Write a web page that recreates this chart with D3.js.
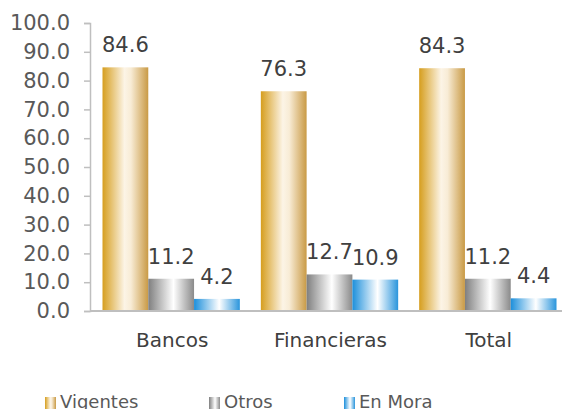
<!DOCTYPE html>
<html>
<head>
<meta charset="UTF-8" />
<script src="https://d3js.org/d3.v7.min.js"></script>
<style>
  body { margin: 0; background: #fff; font-family: "DejaVu Sans", Verdana, sans-serif; }
</style>
</head>
<body>
<svg id="chart" width="562" height="409"></svg>
<script>
// data
const categories = ['Bancos', 'Financieras', 'Total'];
const seriesNames = ['Vigentes', 'Otros', 'En Mora'];
const vigentes = [84.6, 76.3, 84.3];
const otros = [11.2, 12.7, 11.2];
const enMora = [4.2, 10.9, 4.4];
const yTicks = [0, 10, 20, 30, 40, 50, 60, 70, 80, 90, 100];

const seriesValues = [vigentes, otros, enMora];
// gradient stops per series
const gradStops = [
  [['0%', '#d69e1e'], ['48%', '#fcf4e6'], ['62%', '#f8ecd6'], ['100%', '#c99a45']],
  [['0%', '#7f7f7f'], ['55%', '#ffffff'], ['100%', '#8a8a8a']],
  [['0%', '#1c8fdb'], ['55%', '#ffffff'], ['100%', '#2a95dc']]
];

const svg = d3.select('#chart');
const defs = svg.append('defs');
gradStops.forEach((stops, i) => {
  const g = defs.append('linearGradient').attr('id', 'grad' + i)
    .attr('x1', '0%').attr('x2', '100%').attr('y1', '0%').attr('y2', '0%');
  stops.forEach(s => g.append('stop').attr('offset', s[0]).attr('stop-color', s[1]));
});

const plotLeft = 90, plotRight = 567, plotTop = 23, plotBottom = 311;

const y = d3.scaleLinear().domain([0, 100]).range([plotBottom, plotTop]);
const x0 = d3.scaleBand().domain(categories).range([92, plotRight]).padding(0);
const x1 = d3.scaleBand().domain(seriesNames).range([10.5, x0.bandwidth() - 10.5]).padding(0);

// y axis
const yAxis = d3.axisLeft(y).tickValues(yTicks).tickFormat(d3.format('.1f')).tickSize(6).tickPadding(14);
const ya = svg.append('g').attr('transform', `translate(${plotLeft},0)`).call(yAxis);
ya.select('.domain').attr('stroke', '#bfbfbf').attr('stroke-width', 1.5);
ya.selectAll('.tick line').attr('stroke', '#bfbfbf').attr('stroke-width', 1.5);
ya.selectAll('.tick text').attr('fill', '#595959').attr('font-size', 21)
  .attr('font-family', '"DejaVu Sans", Verdana, sans-serif');

// bars
categories.forEach((cat, ci) => {
  seriesNames.forEach((s, si) => {
    const v = seriesValues[si][ci];
    const bx = x0(cat) + x1(s);
    svg.append('rect')
      .attr('x', bx).attr('y', y(v))
      .attr('width', x1.bandwidth()).attr('height', y(0) - y(v))
      .attr('fill', `url(#grad${si})`);
    svg.append('text')
      .attr('x', bx + x1.bandwidth() / 2).attr('y', y(v) - 15)
      .attr('text-anchor', 'middle').attr('font-size', 21).attr('fill', '#404040')
      .text(d3.format('.1f')(v));
  });
});

// x baseline
svg.append('line').attr('x1', plotLeft).attr('x2', 562).attr('y1', y(0)).attr('y2', y(0))
  .attr('stroke', '#bfbfbf').attr('stroke-width', 2);

// category labels
svg.selectAll('.cat').data(categories).join('text')
  .attr('x', d => x0(d) + x0.bandwidth() / 2 + 1)
  .attr('y', 347)
  .attr('text-anchor', 'middle').attr('font-size', 20).attr('fill', '#404040')
  .text(d => d);

// legend
const legendX = [45, 209, 344];
seriesNames.forEach((s, i) => {
  svg.append('rect').attr('x', legendX[i]).attr('y', 397).attr('width', 11).attr('height', 12)
    .attr('fill', `url(#grad${i})`);
  svg.append('text').attr('x', legendX[i] + 15).attr('y', 408)
    .attr('font-size', 18).attr('fill', '#595959').text(s);
});
</script>
</body>
</html>
